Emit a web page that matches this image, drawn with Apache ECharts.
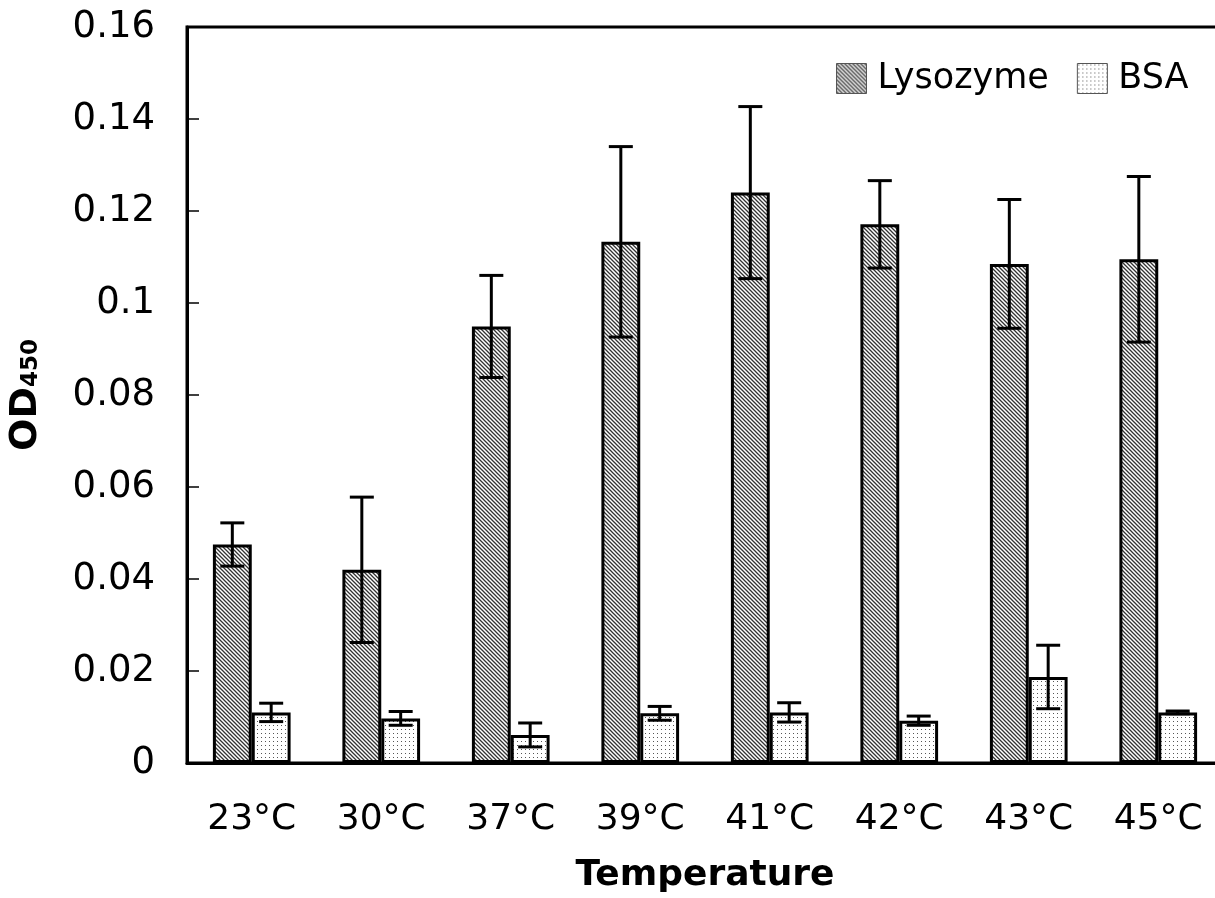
<!DOCTYPE html>
<html>
<head>
<meta charset="utf-8">
<script src="https://cdn.jsdelivr.net/npm/echarts@6/dist/echarts.min.js"></script>
<style>
  html, body { margin: 0; padding: 0; background: #fff; }
  #main { width: 1215px; height: 898px; }
</style>
</head>
<body>
<div id="main"></div>
<script>
const categories = ['23°C', '30°C', '37°C', '39°C', '41°C', '42°C', '43°C', '45°C'];
const lysozyme = [0.0475, 0.0420, 0.0949, 0.1133, 0.1240, 0.1171, 0.1085, 0.1095];
const lysozymeErr = [0.0047, 0.0158, 0.0111, 0.0207, 0.0187, 0.0095, 0.0140, 0.0180];
const bsa = [0.0110, 0.0097, 0.0061, 0.0108, 0.0110, 0.0092, 0.0187, 0.0110];
const bsaErr = [0.0020, 0.0015, 0.0026, 0.0015, 0.0021, 0.0010, 0.0069, 0.0003];

const FONT = 'DejaVu Sans';
const BAR_FRAC = 0.30;

// hatch fills
function stripePattern() {
  const c = document.createElement('canvas');
  c.width = 4; c.height = 4;
  const ctx = c.getContext('2d');
  ctx.fillStyle = '#fff';
  ctx.fillRect(0, 0, 4, 4);
  ctx.strokeStyle = '#333';
  ctx.lineWidth = 1.3;
  ctx.beginPath();
  ctx.moveTo(-1, -1); ctx.lineTo(5, 5);
  ctx.moveTo(-1, 3); ctx.lineTo(1, 5);
  ctx.moveTo(3, -1); ctx.lineTo(5, 1);
  ctx.stroke();
  return c;
}
function dotPattern() {
  const c = document.createElement('canvas');
  c.width = 4; c.height = 4;
  const ctx = c.getContext('2d');
  ctx.fillStyle = '#fff';
  ctx.fillRect(0, 0, 4, 4);
  ctx.fillStyle = '#555';
  ctx.fillRect(1, 1, 1, 1);
  return c;
}
const stripeFill = { image: stripePattern(), repeat: 'repeat' };
const dotFill = { image: dotPattern(), repeat: 'repeat' };

function errorBars(sign) {
  return function (params, api) {
    const i = api.value(0);
    const v = api.value(1);
    const e = api.value(2);
    const band = api.size([1, 0])[0];
    const dx = sign * band * BAR_FRAC / 2;
    const x = api.coord([i, v])[0] + dx;
    const yTop = api.coord([i, v + e])[1];
    const yBot = api.coord([i, v - e])[1];
    const cap = 12;
    const style = { stroke: '#000', lineWidth: 3 };
    return {
      type: 'group',
      children: [
        { type: 'line', shape: { x1: x, y1: yTop, x2: x, y2: yBot }, style: style },
        { type: 'line', shape: { x1: x - cap, y1: yTop, x2: x + cap, y2: yTop }, style: style },
        { type: 'line', shape: { x1: x - cap, y1: yBot, x2: x + cap, y2: yBot }, style: style }
      ]
    };
  };
}

const chart = echarts.init(document.getElementById('main'));
chart.setOption({
  animation: false,
  backgroundColor: '#fff',
  textStyle: { fontFamily: FONT, color: '#000' },
  grid: {
    left: 187, top: 27, right: -8, bottom: 135,
    outerBoundsMode: 'none',
    containLabel: false,
    show: true, borderColor: '#000', borderWidth: 3
  },
  legend: {
    data: ['Lysozyme', 'BSA'],
    left: 831, top: 56,
    icon: 'rect',
    itemWidth: 30, itemHeight: 30,
    itemGap: 28,
    itemStyle: { borderColor: '#555', borderWidth: 1 },
    textStyle: { fontFamily: FONT, fontSize: 35, color: '#000', padding: [0, 0, 0, 6] }
  },
  xAxis: {
    type: 'category',
    data: categories,
    name: 'Temperature',
    nameLocation: 'middle',
    nameGap: 95,
    nameTextStyle: { fontFamily: FONT, fontSize: 36, fontWeight: 'bold', color: '#000' },
    axisLine: { lineStyle: { color: '#000', width: 3 } },
    axisTick: { inside: true, length: 10, lineStyle: { color: '#555', width: 1.5 } },
    axisLabel: { fontFamily: FONT, fontSize: 36, color: '#000', margin: 39 }
  },
  yAxis: {
    type: 'value',
    min: 0, max: 0.16, interval: 0.02,
    name: '{a|OD}{b|450}',
    nameLocation: 'middle',
    nameGap: 142,
    nameRotate: 90,
    nameTextStyle: {
      rich: {
        a: { fontFamily: FONT, fontSize: 38, fontWeight: 'bold', color: '#000', verticalAlign: 'bottom' },
        b: { fontFamily: FONT, fontSize: 23, fontWeight: 'bold', color: '#000', verticalAlign: 'bottom', padding: [0, 0, 2, 0] }
      }
    },
    splitLine: { show: false },
    axisLine: { show: true, lineStyle: { color: '#000', width: 3 } },
    axisTick: { show: true, inside: true, length: 12, lineStyle: { color: '#000', width: 1.5 } },
    axisLabel: { fontFamily: FONT, fontSize: 37, color: '#000', margin: 32 }
  },
  series: [
    {
      name: 'Lysozyme', type: 'bar', data: lysozyme,
      barWidth: (BAR_FRAC * 100) + '%', barGap: '0%',
      itemStyle: { color: stripeFill, borderColor: '#000', borderWidth: 3 }
    },
    {
      name: 'BSA', type: 'bar', data: bsa,
      barWidth: (BAR_FRAC * 100) + '%', barGap: '0%',
      itemStyle: { color: dotFill, borderColor: '#000', borderWidth: 3 }
    },
    {
      type: 'custom', z: 5, silent: true,
      renderItem: errorBars(-1),
      encode: { x: 0, y: 1 },
      data: lysozyme.map((v, i) => [i, v, lysozymeErr[i]])
    },
    {
      type: 'custom', z: 5, silent: true,
      renderItem: errorBars(1),
      encode: { x: 0, y: 1 },
      data: bsa.map((v, i) => [i, v, bsaErr[i]])
    }
  ]
});
</script>
</body>
</html>
